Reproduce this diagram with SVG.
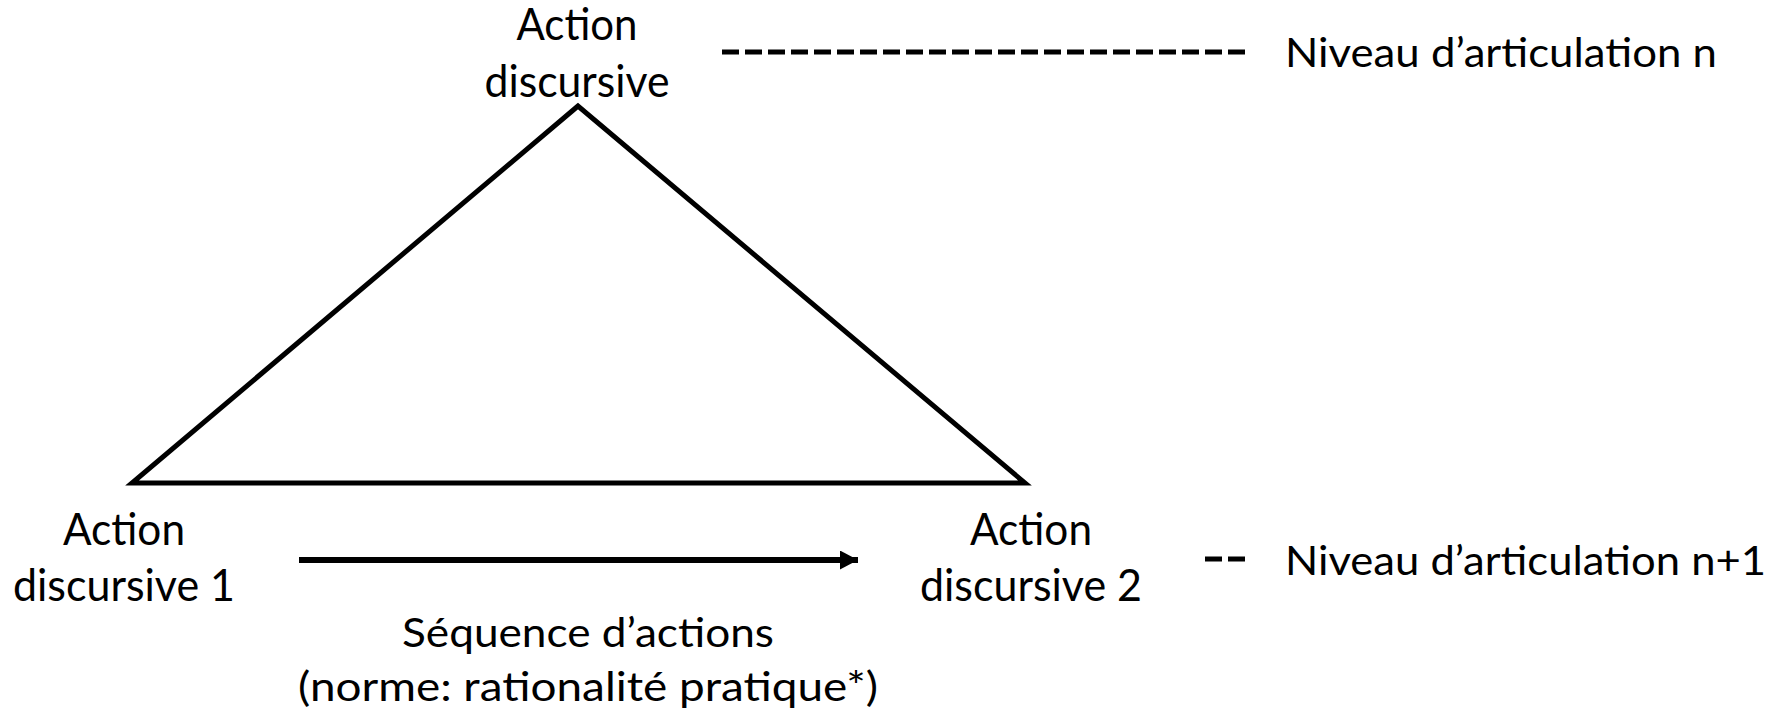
<svg xmlns="http://www.w3.org/2000/svg" width="1785" height="715" viewBox="0 0 1785 715">
<style>
.t{font-family:Lato,"Liberation Sans",sans-serif;fill:#000}
.big{font-size:44px}
.sm{font-size:41px}
.mid{text-anchor:middle}
.dash{stroke:#000;stroke-width:5;stroke-dasharray:17 6;fill:none}
</style>
<defs>
<marker id="ah" markerUnits="userSpaceOnUse" markerWidth="20" markerHeight="20" refX="18" refY="9.5" orient="auto">
<path d="M0,0 L18,9.5 L0,19 Z" fill="#000"/>
</marker>
</defs>
<rect width="1785" height="715" fill="#fff"/>
<g id="triangle">
<polygon points="578,106 132,483 1025,483" fill="none" stroke="#000" stroke-width="5" stroke-linejoin="miter"/>
</g>
<g id="node-top">
<text class="t big mid" x="577" y="40" textLength="121" lengthAdjust="spacingAndGlyphs">Action</text>
<text class="t big mid" x="577" y="97" textLength="185" lengthAdjust="spacingAndGlyphs">discursive</text>
</g>
<g id="node-left">
<text class="t big mid" x="124" y="545" textLength="122" lengthAdjust="spacingAndGlyphs">Action</text>
<text class="t big mid" x="124" y="601" textLength="222" lengthAdjust="spacingAndGlyphs">discursive 1</text>
</g>
<g id="node-right">
<text class="t big mid" x="1031" y="545" textLength="122" lengthAdjust="spacingAndGlyphs">Action</text>
<text class="t big mid" x="1031" y="601" textLength="222" lengthAdjust="spacingAndGlyphs">discursive 2</text>
</g>
<g id="legend">
<line class="dash" x1="722" y1="52" x2="1250" y2="52"/>
<text class="t sm" x="1285" y="67" textLength="432" lengthAdjust="spacingAndGlyphs">Niveau d’articulation n</text>
<line class="dash" x1="1205" y1="559" x2="1248" y2="559" stroke-width="6" stroke-dasharray="17 9"/>
<text class="t sm" x="1285" y="575" textLength="481" lengthAdjust="spacingAndGlyphs">Niveau d’articulation n+1</text>
</g>
<g id="connectors">
<line x1="299" y1="560" x2="858" y2="560" stroke="#000" stroke-width="6" marker-end="url(#ah)"/>
</g>
<g id="sequence-label">
<text class="t sm mid" x="588" y="647" textLength="372" lengthAdjust="spacingAndGlyphs">Séquence d’actions</text>
<text class="t sm mid" x="588" y="701" textLength="580" lengthAdjust="spacingAndGlyphs">(norme: rationalité pratique*)</text>
</g>
</svg>
